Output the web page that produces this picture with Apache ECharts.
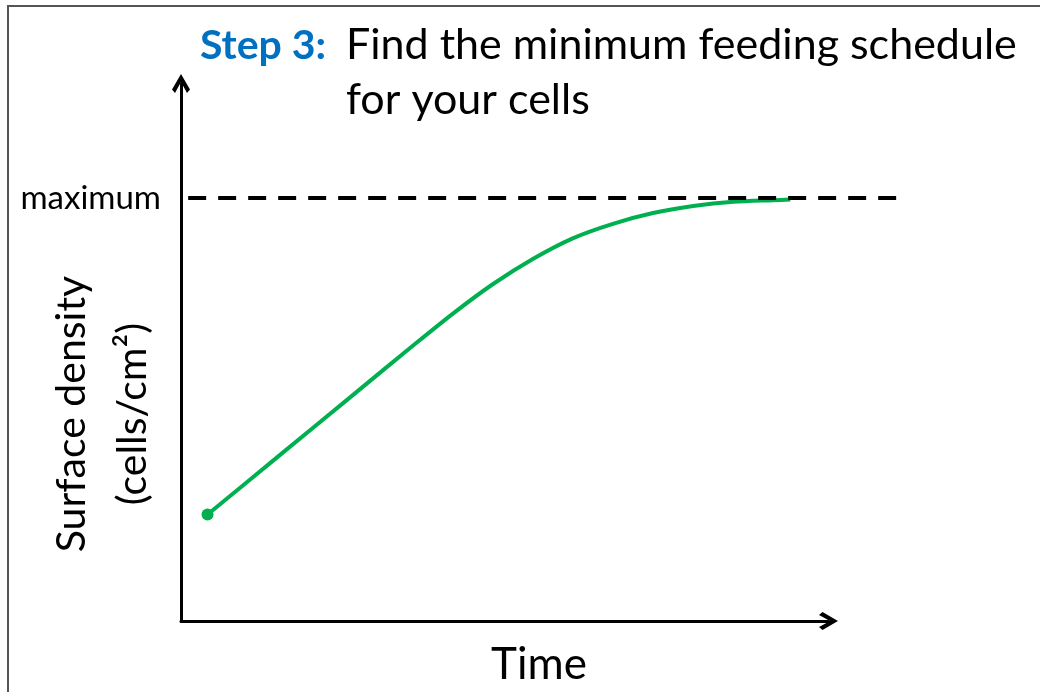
<!DOCTYPE html>
<html lang="en">
<head>
  <meta charset="UTF-8">
  <title>Step 3: Find the minimum feeding schedule</title>
  <style>
    html, body {
      margin: 0;
      padding: 0;
      background: #fff;
    }
    #chartBox {
      position: absolute;
      left: 0;
      top: 0;
      width: 1040px;
      height: 692px;
    }
    /* 截图的边框只露出上边和左边 */
    #frame {
      position: absolute;
      left: 7px;
      top: 5px;
      width: 1100px;
      height: 800px;
      border-top: 2px solid #555;
      border-left: 2px solid #555;
      pointer-events: none;
    }
  </style>
  <script src="https://cdn.jsdelivr.net/npm/echarts@6/dist/echarts.min.js"></script>
</head>
<body>
  <div id="chartBox"></div>
  <div id="frame"></div>

  <script>
    // 文本
    const stepLabel = 'Step 3:';
    const stepText = 'Find the minimum feeding schedule\nfor your cells';
    const yName = 'Surface density\n(cells/cm²)';
    const xName = 'Time';
    const maxLabel = 'maximum';

    // 曲线 (时间, 密度), 0-100 的相对刻度
    const timeVals = [4.1, 15.3, 25.6, 35.8, 42.0, 48.2, 54.4, 60.5, 66.7, 72.9, 79.1, 85.3, 91.4, 94.1];
    const densityVals = [19.8, 30.9, 41.1, 51.2, 57.2, 62.7, 67.4, 71.2, 73.9, 75.9, 77.2, 78.0, 78.3, 78.4];
    const maximumLevel = 78.6;
    const dashedSpan = [1, 100];

    const chart = echarts.init(document.getElementById('chartBox'));

    const arrowHead = 'path://M9 0 L18 15.5 L15 19 L9 8 L3 19 L0 15.5 Z';
    const fontFamily = 'Lato, "Open Sans", sans-serif';

    const curveData = timeVals.map((t, i) => {
      if (i === 0) {
        return { value: [t, densityVals[i]], symbol: 'circle', symbolSize: 12 };
      }
      return [t, densityVals[i]];
    });

    const option = {
      animation: false,
      title: [
        {
          text: stepLabel,
          left: 200,
          top: 19,
          padding: 0,
          textStyle: { fontFamily, fontSize: 41, fontWeight: 'bold', color: '#0070C0', lineHeight: 53 }
        },
        {
          text: stepText,
          left: 346,
          top: 18,
          padding: 0,
          textStyle: { fontFamily, fontSize: 43, fontWeight: 'normal', color: '#000', lineHeight: 55 }
        }
      ],
      grid: [
        { left: 181, right: 211.5, top: 83.5, bottom: 71 },
        { left: 181, right: 143, top: 83.5, bottom: 71 }
      ],
      xAxis: [
        {
          gridIndex: 0,
          type: 'value',
          min: 0,
          max: 100,
          axisLine: { show: true, symbol: ['none', arrowHead], symbolSize: [18, 19], lineStyle: { color: '#000', width: 3 } },
          axisTick: { show: false },
          axisLabel: { show: false },
          splitLine: { show: false }
        },
        {
          gridIndex: 1,
          type: 'value',
          min: 0,
          max: 100,
          name: xName,
          nameLocation: 'middle',
          nameGap: 24,
          nameTextStyle: { fontFamily, fontSize: 44, color: '#000' },
          axisLine: { show: false },
          axisTick: { show: false },
          axisLabel: { show: false },
          splitLine: { show: false }
        }
      ],
      yAxis: [
        {
          gridIndex: 0,
          type: 'value',
          min: 0,
          max: 100,
          axisLine: { show: true, symbol: ['none', arrowHead], symbolSize: [18, 19], lineStyle: { color: '#000', width: 3 } },
          axisTick: { show: false },
          axisLabel: {
            show: true,
            customValues: [maximumLevel],
            formatter: () => maxLabel,
            fontFamily,
            fontSize: 33,
            color: '#000',
            margin: 20
          },
          splitLine: { show: false }
        },
        {
          gridIndex: 1,
          type: 'value',
          min: 0,
          max: 100,
          show: false
        }
      ],
      graphic: [
        {
          type: 'text',
          x: 102,
          y: 414,
          rotation: Math.PI / 2,
          style: {
            text: yName,
            fontFamily,
            fontSize: 41,
            fill: '#000',
            align: 'center',
            verticalAlign: 'middle',
            lineHeight: 61
          }
        }
      ],
      series: [
        {
          name: 'maximum',
          type: 'line',
          xAxisIndex: 1,
          yAxisIndex: 1,
          data: dashedSpan.map(t => [t, maximumLevel]),
          symbol: 'none',
          lineStyle: { color: '#000', width: 4, type: [18, 12] },
          z: 3
        },
        {
          name: 'density',
          type: 'line',
          xAxisIndex: 0,
          yAxisIndex: 0,
          data: curveData,
          smooth: 0.3,
          symbol: 'none',
          itemStyle: { color: '#00B050' },
          lineStyle: { color: '#00B050', width: 4 },
          z: 2
        }
      ]
    };

    chart.setOption(option);
  </script>
</body>
</html>
